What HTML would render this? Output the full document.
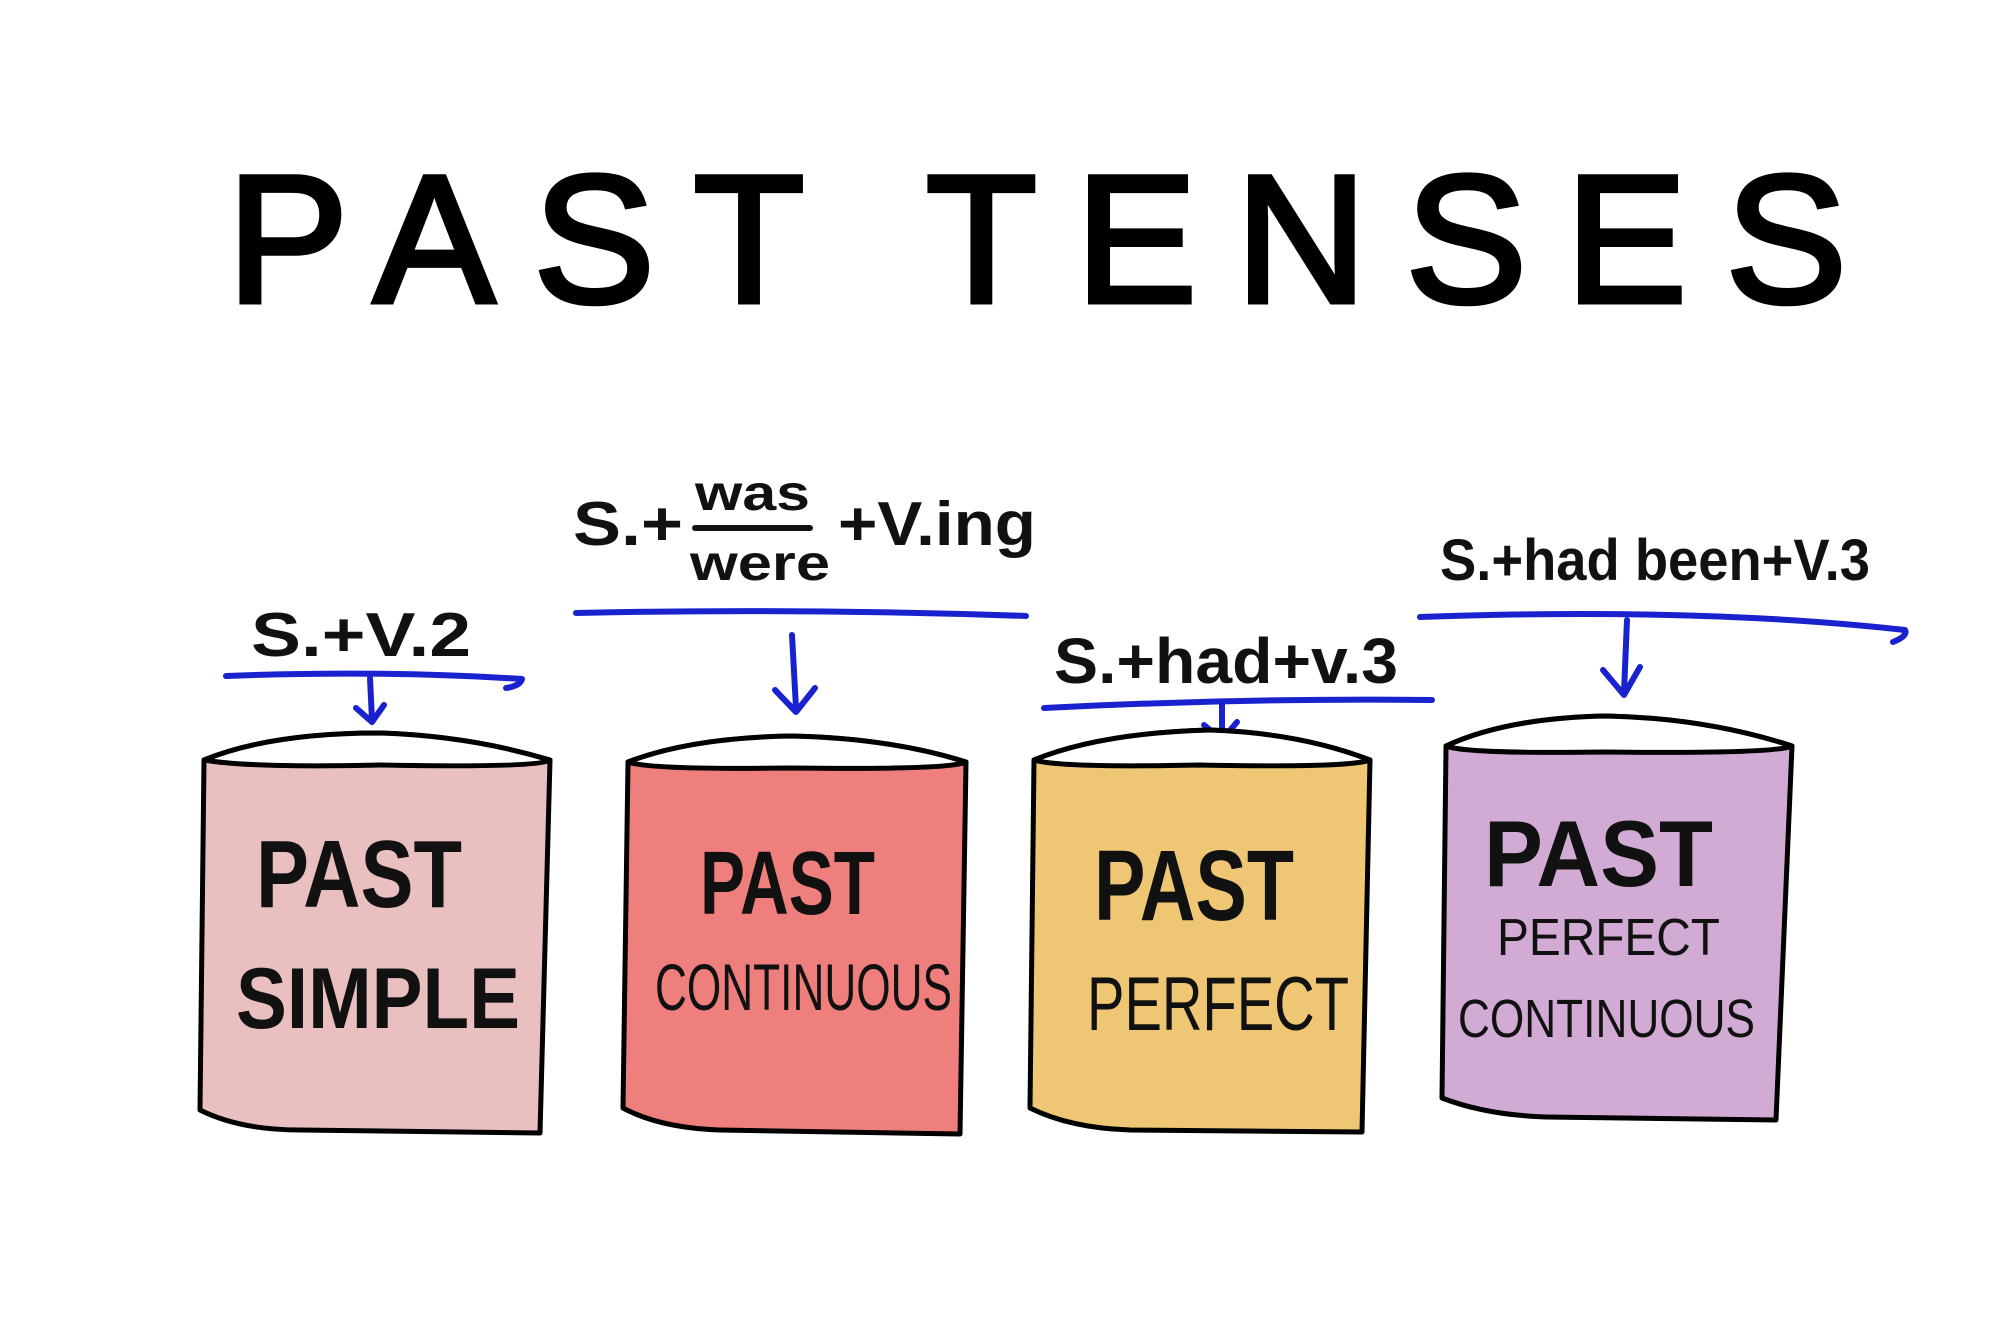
<!DOCTYPE html>
<html><head><meta charset="utf-8"><style>
html,body{margin:0;padding:0;background:#fff;}
svg{display:block;}
</style></head><body>
<svg width="2000" height="1336" viewBox="0 0 2000 1336" xmlns="http://www.w3.org/2000/svg">
<rect width="2000" height="1336" fill="#fff"/>
<text x="227" y="302" font-family="Liberation Sans, sans-serif" font-size="182" stroke="#000" stroke-width="5" textLength="1620" lengthAdjust="spacing" fill="#000">PAST TENSES</text>

<g fill="none" stroke="#1a22d0" stroke-width="6" stroke-linecap="round" stroke-linejoin="round">
<path d="M226 676 Q380 670 522 679 Q520 686 506 688"/>
<path d="M370 678 L372 720 M356 708 L372 722 L384 705"/>
<path d="M576 613 Q800 608 1026 616"/>
<path d="M792 635 L796 708 M775 690 L796 712 L815 688"/>
<path d="M1044 708 Q1240 698 1432 700"/>
<path d="M1222 703 L1222 738 M1204 725 L1222 740 L1237 722"/>
<path d="M1420 617 Q1700 607 1905 630 Q1908 636 1893 642"/>
<path d="M1627 620 L1624 692 M1603 670 L1624 695 L1640 667"/>
</g>

<g font-family="Liberation Sans, sans-serif" font-weight="bold" fill="#111">
<text x="251" y="656" font-size="62" textLength="220" lengthAdjust="spacingAndGlyphs">S.+V.2</text>
<text x="573" y="545" font-size="62" textLength="110" lengthAdjust="spacingAndGlyphs">S.+</text>
<text x="695" y="510" font-size="50" textLength="115" lengthAdjust="spacingAndGlyphs">was</text>
<text x="690" y="580" font-size="50" textLength="140" lengthAdjust="spacingAndGlyphs">were</text>
<text x="838" y="545" font-size="62" textLength="198" lengthAdjust="spacingAndGlyphs">+V.ing</text>
<text x="1054" y="683" font-size="64" textLength="344" lengthAdjust="spacingAndGlyphs">S.+had+v.3</text>
<text x="1440" y="580" font-size="58" textLength="430" lengthAdjust="spacingAndGlyphs">S.+had been+V.3</text>
</g>
<line x1="695" y1="528" x2="810" y2="528" stroke="#111" stroke-width="6" stroke-linecap="round"/>

<g stroke="#000" stroke-width="5" stroke-linejoin="round">
<path d="M204 760 L200 1110 Q240 1130 300 1130 L540 1133 L550 760 Q470 736 380 733 Q270 733 204 760 Z" fill="#e9bfc0"/>
<path d="M204 760 Q270 733 380 733 Q470 736 550 760 Q540 768 380 765 Q250 768 204 760 Z" fill="#fff"/>

<path d="M628 762 L623 1108 Q660 1128 720 1130 L960 1134 L966 762 Q890 738 790 736 Q690 738 628 762 Z" fill="#ef7f7c"/>
<path d="M628 762 Q690 738 790 736 Q890 738 966 762 Q950 770 790 768 Q650 770 628 762 Z" fill="#fff"/>

<path d="M1034 760 L1030 1108 Q1070 1128 1130 1130 L1362 1132 L1370 760 Q1300 733 1210 730 Q1100 733 1034 760 Z" fill="#efc673"/>
<path d="M1034 760 Q1100 733 1210 730 Q1300 733 1370 760 Q1350 768 1200 765 Q1060 768 1034 760 Z" fill="#fff"/>

<path d="M1460 746 L1456 1098 Q1500 1115 1560 1117 L1790 1120 L1806 746 Q1720 718 1620 716 Q1520 718 1460 746 Z" fill="#d1abd4" transform="translate(-14,0)"/>
<path d="M1460 746 Q1520 718 1620 716 Q1720 718 1806 746 Q1790 754 1620 752 Q1480 754 1460 746 Z" fill="#fff" transform="translate(-14,0)"/>
</g>

<g font-family="Liberation Sans, sans-serif" fill="#111">
<text x="256" y="907" font-size="96" font-weight="bold" textLength="206" lengthAdjust="spacingAndGlyphs">PAST</text>
<text x="236" y="1028" font-size="86" font-weight="bold" textLength="284" lengthAdjust="spacingAndGlyphs">SIMPLE</text>
<text x="700" y="914" font-size="90" font-weight="bold" textLength="175" lengthAdjust="spacingAndGlyphs">PAST</text>
<text x="655" y="1010" font-size="66" textLength="297" lengthAdjust="spacingAndGlyphs">CONTINUOUS</text>
<text x="1094" y="920" font-size="100" font-weight="bold" textLength="200" lengthAdjust="spacingAndGlyphs">PAST</text>
<text x="1087" y="1030" font-size="76" textLength="262" lengthAdjust="spacingAndGlyphs">PERFECT</text>
<text x="1484" y="886" font-size="94" font-weight="bold" textLength="229" lengthAdjust="spacingAndGlyphs">PAST</text>
<text x="1497" y="955" font-size="52" textLength="223" lengthAdjust="spacingAndGlyphs">PERFECT</text>
<text x="1458" y="1037" font-size="54" textLength="297" lengthAdjust="spacingAndGlyphs">CONTINUOUS</text>
</g>
</svg>
</body></html>
